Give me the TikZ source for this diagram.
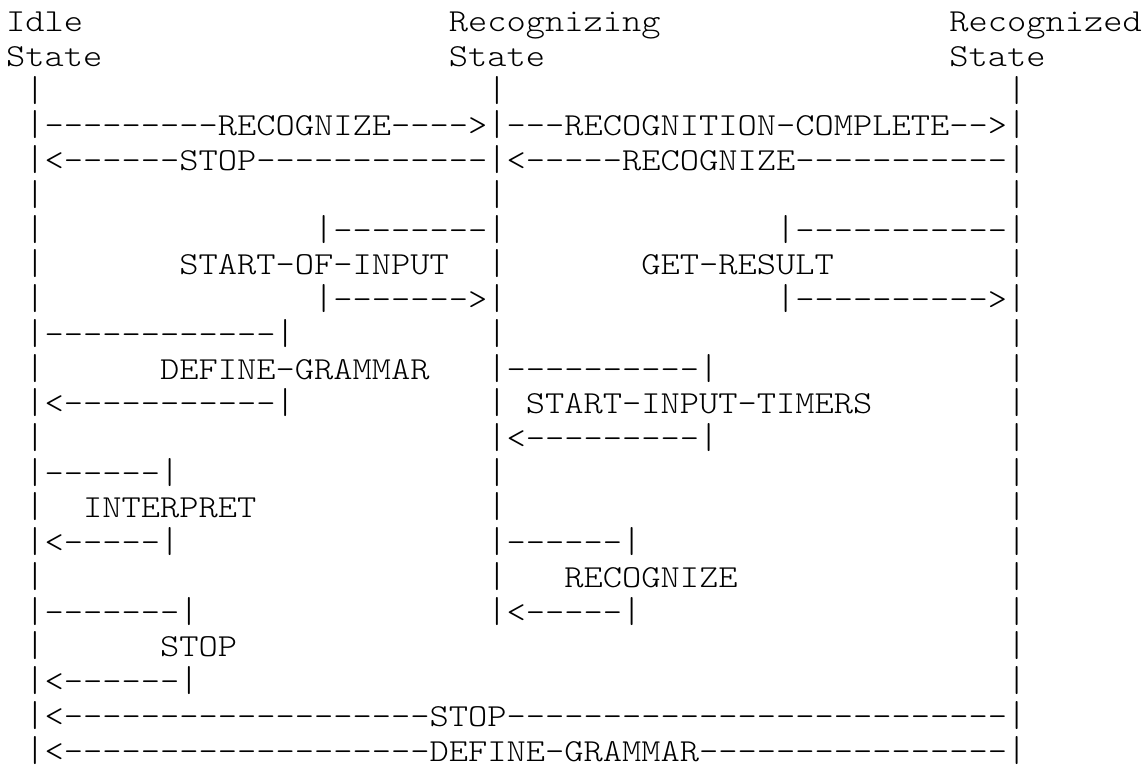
\documentclass[tikz,border=0pt]{standalone}
\usepackage{fontspec}
\newfontfamily\courlike{lmmonolt10-regular}[Extension=.otf, FakeStretch=1.143]
\tikzset{ascii/.style={anchor=base west, inner sep=0pt, outer sep=0pt, text=black,
  font=\courlike\fontsize{32.08}{34.7}\selectfont}}
\newcommand\asc[4]{\node[ascii] (#1) at ({6+#2*19.25},{#3*34.727-3}) {#4};}
\newcommand\D[1]{\foreach\k in {1,...,#1}{-}}
\newcommand\B{\scalebox{1}[1.12]{|}}
\begin{document}
\begin{tikzpicture}[x=1pt,y=-1pt]
\useasboundingbox (0,0) rectangle (1145,764);
% header
\asc{idle}{0}{1}{Idle}
\asc{recing}{23}{1}{Recognizing}
\asc{reced}{49}{1}{Recognized}
\asc{s1}{0}{2}{State}
\asc{s2}{23}{2}{State}
\asc{s3}{49}{2}{State}
% line 3
\asc{a3}{1}{3}{\B}\asc{b3}{25}{3}{\B}\asc{c3}{52}{3}{\B}
% line 4
\asc{l4}{1}{4}{\B\D{9}RECOGNIZE\D{4}>\B\D{3}RECOGNITION-COMPLETE\D{2}>\B}
% line 5
\asc{l5}{1}{5}{\B<\D{6}STOP\D{12}\B<\D{5}RECOGNIZE\D{11}\B}
% line 6
\asc{a6}{1}{6}{\B}\asc{b6}{25}{6}{\B}\asc{c6}{52}{6}{\B}
% line 7
\asc{a7}{1}{7}{\B}\asc{b7}{16}{7}{\B\D{8}\B}\asc{c7}{40}{7}{\B\D{11}\B}
% line 8
\asc{a8}{1}{8}{\B}\asc{soi}{9}{8}{START-OF-INPUT}\asc{b8}{25}{8}{\B}\asc{gr}{33}{8}{GET-RESULT}\asc{c8}{52}{8}{\B}
% line 9
\asc{a9}{1}{9}{\B}\asc{b9}{16}{9}{\B\D{7}>\B}\asc{c9}{40}{9}{\B\D{10}>\B}
% line 10
\asc{a10}{1}{10}{\B\D{12}\B}\asc{b10}{25}{10}{\B}\asc{c10}{52}{10}{\B}
% line 11
\asc{a11}{1}{11}{\B}\asc{dg}{8}{11}{DEFINE-GRAMMAR}\asc{b11}{25}{11}{\B\D{10}\B}\asc{c11}{52}{11}{\B}
% line 12
\asc{a12}{1}{12}{\B<\D{11}\B}\asc{b12}{25}{12}{\B}\asc{sit}{27}{12}{START-INPUT-TIMERS}\asc{c12}{52}{12}{\B}
% line 13
\asc{a13}{1}{13}{\B}\asc{b13}{25}{13}{\B<\D{9}\B}\asc{c13}{52}{13}{\B}
% line 14
\asc{a14}{1}{14}{\B\D{6}\B}\asc{b14}{25}{14}{\B}\asc{c14}{52}{14}{\B}
% line 15
\asc{a15}{1}{15}{\B}\asc{interp}{4}{15}{INTERPRET}\asc{b15}{25}{15}{\B}\asc{c15}{52}{15}{\B}
% line 16
\asc{a16}{1}{16}{\B<\D{5}\B}\asc{b16}{25}{16}{\B\D{6}\B}\asc{c16}{52}{16}{\B}
% line 17
\asc{a17}{1}{17}{\B}\asc{b17}{25}{17}{\B}\asc{rec}{29}{17}{RECOGNIZE}\asc{c17}{52}{17}{\B}
% line 18
\asc{a18}{1}{18}{\B\D{7}\B}\asc{b18}{25}{18}{\B<\D{5}\B}\asc{c18}{52}{18}{\B}
% line 19
\asc{a19}{1}{19}{\B}\asc{stop}{8}{19}{STOP}\asc{c19}{52}{19}{\B}
% line 20
\asc{a20}{1}{20}{\B<\D{6}\B}\asc{c20}{52}{20}{\B}
% line 21
\asc{l21}{1}{21}{\B<\D{19}STOP\D{26}\B}
% line 22
\asc{l22}{1}{22}{\B<\D{19}DEFINE-GRAMMAR\D{16}\B}
\end{tikzpicture}
\end{document}
